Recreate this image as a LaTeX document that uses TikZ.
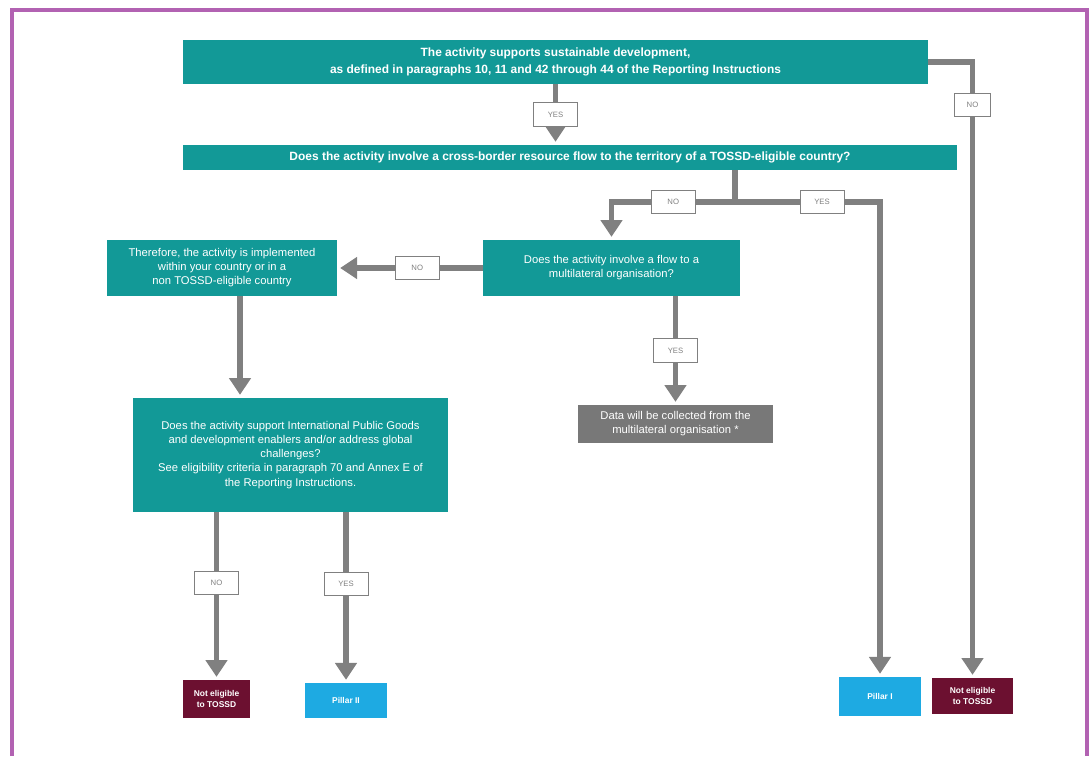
\documentclass[tikz,border=0pt]{standalone}
\usepackage{fontspec}
\setmainfont{Liberation Sans}
\usetikzlibrary{arrows.meta}
\definecolor{tossdteal}{RGB}{18,153,151}
\definecolor{tossdgray}{RGB}{128,128,128}
\definecolor{datagray}{RGB}{120,120,120}
\definecolor{tossdred}{RGB}{108,16,48}
\definecolor{tossdblue}{RGB}{30,170,226}
\definecolor{framepurple}{RGB}{178,98,178}
\tikzset{
  question/.style={fill=tossdteal, text=white, align=center, inner sep=0pt, font=\fontsize{8}{10}\selectfont},
  outcome/.style={text=white, align=center, inner sep=0pt, font=\bfseries\fontsize{6}{7.5}\selectfont},
  answer/.style={draw=tossdgray, line width=0.7pt, fill=white, text=tossdgray, minimum width=1.1cm, minimum height=0.58cm, inner sep=0pt, font=\fontsize{5.5}{6.5}\selectfont},
  flow/.style={draw=tossdgray, line width=3.8pt, -{Triangle[length=12pt,width=15pt]}, shorten >=2pt},
  link/.style={draw=tossdgray, line width=3.8pt}
}
\begin{document}
\begin{tikzpicture}[x=0.025cm, y=-0.025cm]
\useasboundingbox (0,0) rectangle (1091,756);
\draw[framepurple, line width=2.2pt] (12,756) -- (12,10) -- (1087,10) -- (1087,756);

\node[question, minimum width=18.63cm, minimum height=1.1cm, font=\bfseries\fontsize{8.5}{12}\selectfont] (sd) at (555.5,62)
  {The activity supports sustainable development,\\ as defined in paragraphs 10, 11 and 42 through 44 of the Reporting Instructions};
\node[question, minimum width=19.35cm, minimum height=0.63cm, font=\bfseries\fontsize{8.5}{10}\selectfont] (cb) at (570,157.5)
  {Does the activity involve a cross-border resource flow to the territory of a TOSSD-eligible country?};
\node[question, minimum width=6.43cm, minimum height=1.4cm] (ml) at (611.5,268)
  {Does the activity involve a flow to a\\ multilateral organisation?};
\node[question, minimum width=5.75cm, minimum height=1.4cm] (dom) at (222,268)
  {Therefore, the activity is implemented\\ within your country or in a\\ non TOSSD-eligible country};
\node[question, minimum width=7.88cm, minimum height=2.85cm] (ipg) at (290.5,455)
  {Does the activity support International Public Goods\\ and development enablers and/or address global\\ challenges?\\ See eligibility criteria in paragraph 70 and Annex E of\\ the Reporting Instructions.};
\node[question, fill=datagray, minimum width=4.88cm, minimum height=0.95cm] (data) at (675.5,424)
  {Data will be collected from the\\ multilateral organisation *};
\node[outcome, fill=tossdred, minimum width=1.68cm, minimum height=0.95cm] (ne1) at (216.5,699) {Not eligible\\ to TOSSD};
\node[outcome, fill=tossdblue, minimum width=2.05cm, minimum height=0.88cm] (p2) at (346,700.5) {Pillar II};
\node[outcome, fill=tossdblue, minimum width=2.05cm, minimum height=0.98cm] (p1) at (880,696.5) {Pillar I};
\node[outcome, fill=tossdred, minimum width=2.03cm, minimum height=0.9cm] (ne2) at (972.5,696) {Not eligible\\ to TOSSD};

\coordinate (split) at (735,202);

\draw[flow] (sd.south) -- node[answer]{YES} (sd.south |- cb.north);
\draw[flow] (sd.east) -| node[answer, pos=0.535, minimum width=0.9cm]{NO} (ne2.north);
\draw[link] (split |- cb.south) -- (split);
\draw[flow] (split) -- node[answer]{NO} (split -| ml.north) -- (ml.north);
\draw[flow] (split) -- node[answer, pos=0.6]{YES} (split -| p1.north) -- (p1.north);
\draw[flow] (ml.west) -- node[answer, pos=0.45]{NO} (dom.east);
\draw[flow] (data |- ml.south) -- node[answer]{YES} (data.north);
\draw[flow] ([xshift=0.45cm]dom.south) -- ([xshift=0.45cm]dom.south |- ipg.north);
\draw[flow] (ne1 |- ipg.south) -- node[answer, pos=0.42]{NO} (ne1.north);
\draw[flow] (p2 |- ipg.south) -- node[answer, pos=0.42]{YES} (p2.north);
\end{tikzpicture}
\end{document}
